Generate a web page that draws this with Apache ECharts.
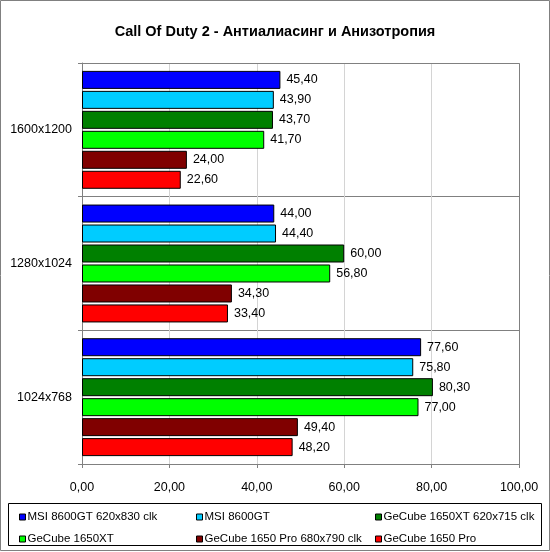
<!DOCTYPE html>
<html><head><meta charset="utf-8">
<script src="https://cdn.jsdelivr.net/npm/echarts@6/dist/echarts.min.js"></script>
<style>html,body{margin:0;padding:0;background:#fff}#c{width:550px;height:552px}</style>
</head><body><div id="c"></div>
<script>
var categories = ['1600x1200', '1280x1024', '1024x768'];
var seriesNames = ['MSI 8600GT 620x830 clk', 'MSI 8600GT', 'GeCube 1650XT 620x715 clk', 'GeCube 1650XT', 'GeCube 1650 Pro 680x790 clk', 'GeCube 1650 Pro'];
var msi8600gtOc = [45.40, 44.00, 77.60];
var msi8600gt = [43.90, 44.40, 75.80];
var gecube1650xtOc = [43.70, 60.00, 80.30];
var gecube1650xt = [41.70, 56.80, 77.00];
var gecube1650proOc = [24.00, 34.30, 49.40];
var gecube1650pro = [22.60, 33.40, 48.20];
var colors = ['#0000FF', '#00CCFF', '#008000', '#00FF00', '#800000', '#FF0000'];
var xTicks = [0, 20, 40, 60, 80, 100];

var values = [msi8600gtOc, msi8600gt, gecube1650xtOc, gecube1650xt, gecube1650proOc, gecube1650pro];
var font = 'Arial, "Liberation Sans", sans-serif';

var series = values.map(function (v, i) {
  return {
    name: seriesNames[i],
    type: 'bar',
    data: v,
    barWidth: 18,
    barGap: '11%',
    itemStyle: { color: colors[i], borderColor: '#000', borderWidth: 1 },
    label: {
      show: true, position: 'right', distance: 6,
      color: '#000', fontFamily: font, fontSize: 12.5,
      formatter: function (p) { return p.value.toFixed(2).replace('.', ','); }
    },
    animation: false
  };
});

function legendCol(names, left) {
  return {
    data: names.map(function (n) { return { name: n, icon: 'rect', itemStyle: { borderColor: '#000', borderWidth: 1 } }; }),
    orient: 'vertical', left: left, top: 511, itemWidth: 6, itemHeight: 6, itemGap: 10,
    padding: 0,
    textStyle: { fontFamily: font, fontSize: 11.5, color: '#000', padding: [0, 0, 0, -3] },
    selectedMode: false
  };
}

var chart = echarts.init(document.getElementById('c'), null, { renderer: 'canvas' });
chart.setOption({
  animation: false,
  backgroundColor: '#fff',
  title: {
    text: 'Call Of Duty 2 - Антиалиасинг и Анизотропия',
    left: 'center', top: 19,
    textStyle: { fontFamily: font, fontSize: 14.5, fontWeight: 'bold', color: '#000' }
  },
  graphic: [
    { type: 'rect', shape: { x: 0.5, y: 0.5, width: 549, height: 550 }, style: { fill: null, stroke: '#808080', lineWidth: 1 }, z: 100 },
    { type: 'rect', shape: { x: 8.5, y: 503.5, width: 533, height: 42 }, style: { fill: null, stroke: '#000', lineWidth: 1 }, z: 100 },
    { type: 'rect', shape: { x: 82.5, y: 63.5, width: 437, height: 401 }, style: { fill: null, stroke: '#808080', lineWidth: 1 }, z: 1, silent: true }
  ],
  legend: [
    legendCol([seriesNames[0], seriesNames[3]], 19),
    legendCol([seriesNames[1], seriesNames[4]], 196),
    legendCol([seriesNames[2], seriesNames[5]], 375)
  ],
  grid: { left: 82, right: 31, top: 63, bottom: 88, containLabel: false },
  xAxis: {
    type: 'value', min: 0, max: 100, interval: 20,
    axisLine: { show: true, lineStyle: { color: '#808080' } },
    axisTick: { show: true, length: 4, lineStyle: { color: '#808080' } },
    axisLabel: { fontFamily: font, fontSize: 12.5, color: '#000', margin: 17,
      formatter: function (v) { return v.toFixed(2).replace('.', ','); } },
    splitLine: { show: true, lineStyle: { color: '#D4D4D4' } }
  },
  yAxis: {
    type: 'category', data: categories, inverse: true,
    axisLine: { show: true, lineStyle: { color: '#808080' } },
    axisTick: { show: true, length: 4, lineStyle: { color: '#808080' } },
    axisLabel: { fontFamily: font, fontSize: 12.5, color: '#000', margin: 10 },
    splitLine: { show: true, lineStyle: { color: '#808080' } }
  },
  series: series
});
</script></body></html>
